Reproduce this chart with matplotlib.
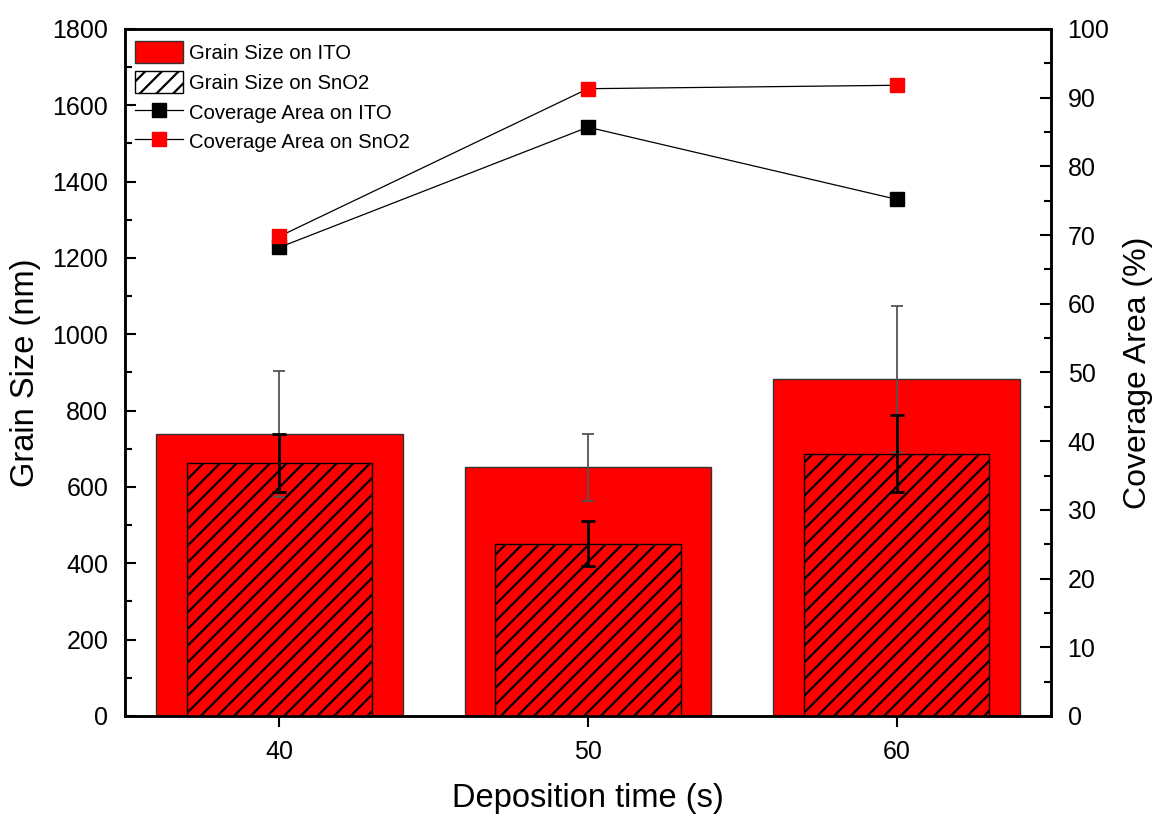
import numpy as np
import matplotlib
matplotlib.use('Agg')
import matplotlib.pyplot as plt
from matplotlib.lines import Line2D
from matplotlib.patches import Patch

plt.rcParams['font.family'] = ['Liberation Sans', 'DejaVu Sans']
plt.rcParams['hatch.linewidth'] = 1.6

# data
times = [40, 50, 60]
grain_ito = [740, 651, 882]
grain_ito_err = [165, 87, 191]
grain_sno2 = [664, 451, 687]
grain_sno2_err = [76, 59, 101]
cover_ito = [68.2, 85.7, 75.2]
cover_sno2 = [69.8, 91.3, 91.8]

fig = plt.figure(figsize=(11.54, 8.15), dpi=100)
ax = fig.add_axes([0.1083, 0.1215, 0.8024, 0.843])

ax.bar(times, grain_ito, width=8, color='red', edgecolor='#333333', linewidth=1, zorder=2)
ax.bar(times, grain_sno2, width=6, color='red', edgecolor='black', hatch='//', linewidth=1, zorder=3)
ax.errorbar(times, grain_ito, yerr=grain_ito_err, fmt='none', ecolor='#555555',
            elinewidth=1.3, capsize=4.5, capthick=1.3, zorder=4)
ax.errorbar(times, grain_sno2, yerr=grain_sno2_err, fmt='none', ecolor='black',
            elinewidth=2, capsize=5, capthick=2, zorder=5)

ax.set_xlim(35, 65)
ax.set_ylim(0, 1800)
ax.set_xticks(times)
ax.set_yticks(np.arange(0, 1801, 200))
ax.set_yticks(np.arange(100, 1800, 200), minor=True)
ax.tick_params(axis='y', direction='in', length=8, width=1.5, labelsize=18, pad=12)
ax.tick_params(axis='y', which='minor', direction='in', length=5, width=1.5)
ax.tick_params(axis='x', direction='out', length=8, width=1.5, labelsize=18, pad=9)
ax.set_xlabel('Deposition time (s)', fontsize=23.5, labelpad=14)
ax.set_ylabel('Grain Size (nm)', fontsize=23.5, labelpad=8)
for s in ax.spines.values():
    s.set_linewidth(1.8)

ax2 = ax.twinx()
ax2.plot(times, cover_ito, color='black', lw=0.9, marker='s', ms=10,
         mfc='black', mec='black', zorder=6)
ax2.plot(times, cover_sno2, color='black', lw=0.9, marker='s', ms=10,
         mfc='red', mec='red', zorder=6)
ax2.set_ylim(0, 100)
ax2.set_yticks(np.arange(0, 101, 10))
ax2.set_yticks(np.arange(5, 100, 10), minor=True)
ax2.tick_params(axis='y', direction='in', length=8, width=1.5, labelsize=18, pad=12)
ax2.tick_params(axis='y', which='minor', direction='in', length=5, width=1.5)
ax2.set_ylabel('Coverage Area (%)', fontsize=23, labelpad=10)
for s in ax2.spines.values():
    s.set_linewidth(1.8)

handles = [
    Patch(facecolor='red', edgecolor='#333333', label='Grain Size on ITO'),
    Patch(facecolor='white', edgecolor='black', hatch='//', label='Grain Size on SnO2'),
    Line2D([], [], color='black', lw=0.9, marker='s', ms=10, mfc='black', mec='black',
           label='Coverage Area on ITO'),
    Line2D([], [], color='black', lw=0.9, marker='s', ms=10, mfc='red', mec='red',
           label='Coverage Area on SnO2'),
]
ax2.legend(handles=handles, loc='upper left', bbox_to_anchor=(-0.004, 1.003), frameon=False,
           fontsize=14.6, handlelength=2.35, handleheight=1.3, handletextpad=0.3,
           labelspacing=0.38, borderaxespad=0.3)

fig.savefig('out.png', dpi=100)
